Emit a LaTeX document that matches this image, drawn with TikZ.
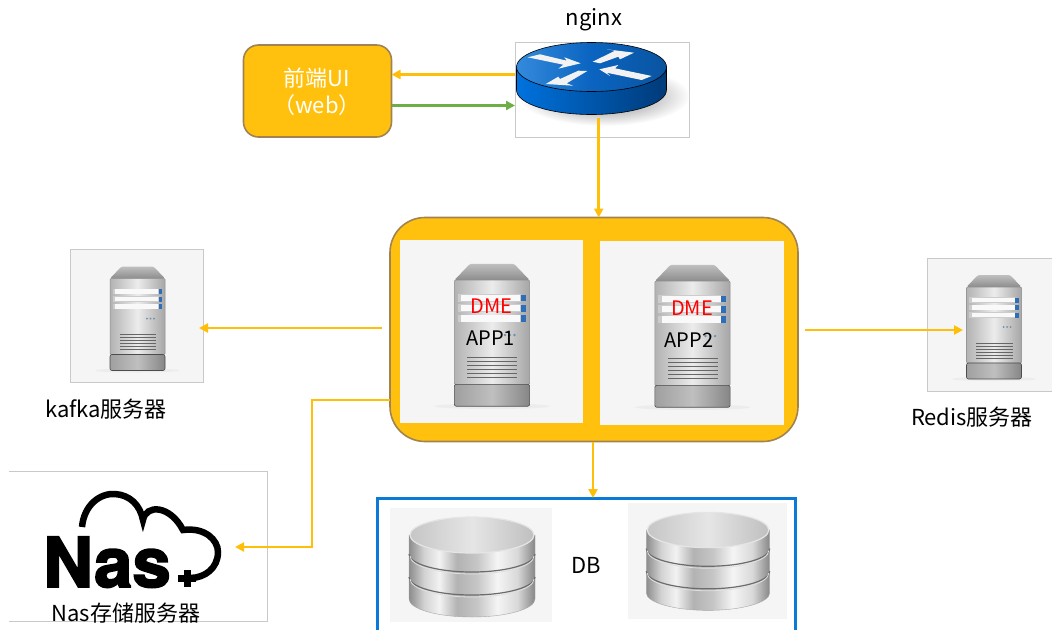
\documentclass[tikz,border=0pt]{standalone}
\usepackage{fontspec}
\setmainfont{Noto Sans CJK SC}
\newfontfamily\nasfont{TeX Gyre Heros}[BoldFeatures={FakeBold=2.5}]
\usetikzlibrary{arrows.meta}

\definecolor{boxyellow}{HTML}{FFC10E}
\definecolor{boxedge}{HTML}{A08350}
\definecolor{linkyellow}{HTML}{FFBE0A}
\definecolor{linkgreen}{HTML}{6FAD47}
\definecolor{dbblue}{HTML}{0A7AD6}
\definecolor{panelgray}{HTML}{F5F5F5}
\definecolor{paneledge}{HTML}{C9C9C9}
\definecolor{ledblue}{HTML}{2E6DB8}
\definecolor{ledgray}{HTML}{6F8FA8}

\pgfdeclarehorizontalshading{dbside}{100bp}{
    color(0bp)=(gray!90); color(25bp)=(gray!90); color(31bp)=(gray!35);
    color(37bp)=(gray!10); color(44bp)=(gray!60); color(52bp)=(gray!45);
    color(60bp)=(gray!8); color(68bp)=(gray!30); color(75bp)=(gray!95);
    color(100bp)=(gray!95)}

\tikzset{
    lbl/.style={inner sep=0pt, font=\fontsize{22}{26}\selectfont},
    applbl/.style={inner sep=0pt, font=\fontsize{20}{24}\selectfont},
    panel/.style={fill=panelgray, inner sep=0pt, outer sep=0pt},
    framed/.style={panel, draw=paneledge, line width=0.8pt},
    yellowbox/.style={fill=boxyellow, draw=boxedge, line width=1.6pt, inner sep=0pt, outer sep=0pt},
    link/.style={draw=linkyellow, line width=2.6pt, -{Triangle[length=9pt,width=9pt]}},
    server/.pic={
        \fill[white!85!gray] (0,52) ellipse (42 and 2);
        \shade[top color=gray!50, bottom color=gray!90, rounded corners=1.5pt] (-16,-52) -- (16,-52) -- (27.5,-40) -- (-27.5,-40) -- cycle;
        \shade[left color=gray!60, right color=gray!70, middle color=gray!15, draw=gray!90, line width=0.5pt, rounded corners=1pt] (-27.5,-40) rectangle (27.5,36);
        \shade[left color=gray!75, right color=gray!95, middle color=gray!50, draw=gray!60!black, line width=0.6pt, rounded corners=2pt] (-27.5,36) rectangle (27.5,52);
        \foreach \y in {-27,-19.5,-12} {
            \fill[gray!40] (-25,\y-2.8) rectangle (21,\y+2.8);
            \fill[white!95!gray] (-22.5,\y-2.3) rectangle (20.5,\y+2.3);
            \fill[ledblue] (21,\y-2.5) rectangle (24.5,\y+2.5);
        }
        \foreach \x in {9.5,13,16.5} \fill[ledgray] (\x,0) circle (1);
        \foreach \y in {16,19,22,25,28,31} \draw[gray!80!black, line width=0.5pt] (-18,\y) -- (18.5,\y);
    },
    dbstack/.pic={
        \shade[shading=dbside, draw=gray!70, line width=0.4pt] (-63,0) -- (-63,64) arc[start angle=180, end angle=0, x radius=63, y radius=18] -- (63,0) -- cycle;
        \foreach \y in {19,42} {
            \draw[gray!85!black, line width=1.2pt] (-63,\y) arc[start angle=180, end angle=0, x radius=63, y radius=18];
            \draw[white!75!gray, line width=0.8pt] (-62,\y+2) arc[start angle=180, end angle=0, x radius=62, y radius=18];
        }
        \shade[left color=gray!45, right color=gray!50, middle color=gray!20, draw=white!80!gray, line width=1.2pt] (0,0) ellipse (62 and 18);
    }
}

\begin{document}
\begin{tikzpicture}[x=1pt, y=-1pt]
    \useasboundingbox (0,0) rectangle (1052,630);

    % boxes
    \node[yellowbox, rounded corners=15pt, minimum width=148, minimum height=92] (ui) at (317.5,91) {};
    \node[draw=paneledge, line width=0.8pt, inner sep=0pt, outer sep=0pt, minimum width=174, minimum height=95] (nginx) at (602,89.5) {};
    \node[yellowbox, rounded corners=35pt, minimum width=408, minimum height=224] (apps) at (594,329.5) {};
    \node[panel, minimum width=183, minimum height=183] (app1) at (491.5,331.5) {};
    \node[panel, minimum width=184, minimum height=184] (app2) at (691.7,333) {};
    \node[framed, minimum width=133, minimum height=133] (kafka) at (137,315.5) {};
    \node[framed, minimum width=130, minimum height=133] (redis) at (992,324.5) {};
    \node[inner sep=0pt, outer sep=0pt, minimum width=258, minimum height=150] (nas) at (138,546) {};
    \node[inner sep=0pt, outer sep=0pt, minimum width=418, minimum height=132] (db) at (586,564) {};
    \node[panel, minimum width=162, minimum height=114] (db1) at (471,565) {};
    \node[panel, minimum width=159, minimum height=116] (db2) at (707.5,561) {};

    \draw[paneledge, line width=0.8pt] (nas.north west) -- (nas.north east) -- (nas.south east) -- (nas.south west);
    \draw[dbblue, line width=3pt] (db.south west) -- (db.north west) -- (db.north east) -- (db.south east);

    % router
    \begin{scope}
        \clip (nginx.south west) rectangle (nginx.north east);
        \shade[inner color=black!55, outer color=white] (604,96) ellipse (86 and 30);
    \end{scope}
    \shade[left color={rgb,255:red,0;green,114;blue,222}, right color={rgb,255:red,0;green,58;blue,120}, draw=black, line width=0.6pt]
        (516.5,67) -- (516.5,90) arc[start angle=180, end angle=0, x radius=75, y radius=24.5] -- (666.5,67) -- cycle;
    \shade[left color={rgb,255:red,52;green,138;blue,220}, right color={rgb,255:red,10;green,84;blue,160}, middle color={rgb,255:red,10;green,100;blue,192}, draw=black, line width=0.6pt] (591.5,67) ellipse (75 and 24.5);
    \fill[white!90!gray] (527.7,57.3) -- (540,54.3) -- (566.7,60.7) -- (564.3,57.3) -- (580.7,63.3) -- (558.3,68.7) -- (563.3,64.7) -- cycle;
    \fill[white!90!gray] (592.7,61.7) -- (615,50.7) -- (606.7,49.3) -- (634,52.7) -- (620,59.3) -- (618.3,56.7) -- (600,63.3) -- cycle;
    \fill[white!90!gray] (599.3,69.3) -- (618.3,65) -- (615,68.3) -- (651.7,76) -- (641.7,80) -- (606.7,72.7) -- (610,76) -- cycle;
    \fill[white!90!gray] (587.3,71) -- (566.7,83.3) -- (573.3,85.7) -- (545.7,84) -- (558.3,76.7) -- (560,79) -- (578.3,70.7) -- cycle;

    % servers
    \pic[scale=1.37] at (492,335) {server};
    \pic[scale=1.37] at (692.5,336) {server};
    \pic at (137.5,318.5) {server};
    \pic at (994,327) {server};

    % databases
    \pic at (472,535) {dbstack};
    \pic[yscale=0.98, xscale=0.98] at (708,530) {dbstack};

    % nas logo
    \node[anchor=base west, inner sep=0pt, font=\nasfont\bfseries\fontsize{69}{69}\selectfont] (naslogo) at (43,587) {Nas};
    \draw[black, line width=6.5pt] (82,527) .. controls (84,505) and (100,493) .. (115,494)
        .. controls (130,495) and (140,505) .. (143,520)
        .. controls (146,504) and (170,505) .. (183,530)
        .. controls (205,527) and (218,540) .. (218,552)
        .. controls (218,568) and (205,578) .. (190,578);
    \fill[black] (184,570) rectangle (191,587);
    \fill[black] (178,575) rectangle (196,582);

    % labels
    \node[lbl] (nginxlbl) at (594,20) {nginx};
    \node[lbl, text=white] (uilbl1) at (317,78) {前端UI};
    \node[lbl, text=white] (uilbl2) at (317,105) {（web）};
    \node[applbl, text=red] (dme1) at (491.7,306) {DME};
    \node[applbl, text=red] (dme2) at (692,308) {DME};
    \node[applbl] (applbl1) at (490.7,338) {APP1};
    \node[applbl] (applbl2) at (689,340) {APP2};
    \node[lbl] (kafkalbl) at (106,409) {kafka服务器};
    \node[lbl] (redislbl) at (972,417) {Redis服务器};
    \node[lbl] (naslbl) at (126,613) {Nas存储服务器};
    \node[lbl] (dblbl) at (586,565) {DB};

    % free ends
    \coordinate (kafkaout) at (382,328);
    \coordinate (kafkain) at (199,328);
    \coordinate (redisout) at (805,330);
    \coordinate (redisin) at (963,330);
    \coordinate (nasout) at (390,400);
    \coordinate (nasbend) at (312,400);
    \coordinate (nasin) at (235,547);
    \coordinate (nginxout) at (598.7,118);

    \draw[link] (nginx.west |- 0,74.5) -- (ui.east |- 0,74.5);
    \draw[link, draw=linkgreen] (ui.east |- 0,105.5) -- (nginx.west |- 0,105.5);
    \draw[link] (nginxout) -- (nginxout |- apps.north);
    \draw[link] (kafkaout) -- (kafkain);
    \draw[link] (redisout) -- (redisin);
    \draw[link] (nasout) -- (nasbend) |- (nasin);
    \draw[link] (apps.south -| 593,0) -- (db.north -| 593,0);
\end{tikzpicture}
\end{document}
